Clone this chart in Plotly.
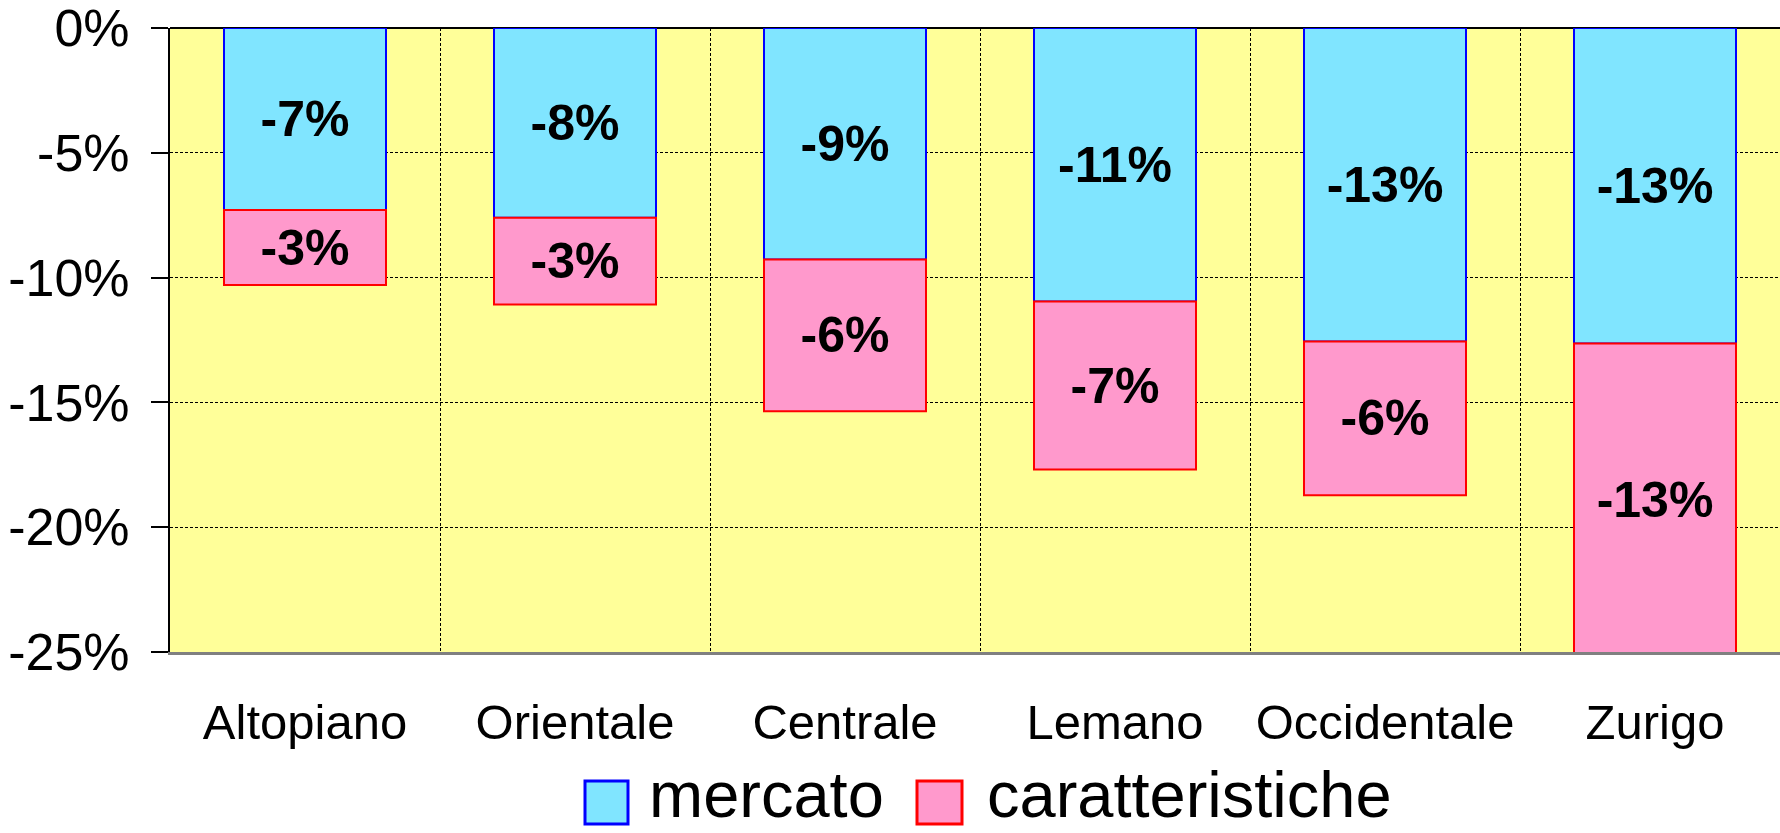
import plotly.graph_objects as go

categories = ["Altopiano", "Orientale", "Centrale", "Lemano", "Occidentale", "Zurigo"]
mercato = [-7.29, -7.60, -9.27, -10.96, -12.56, -12.64]
caratteristiche = [-3.01, -3.48, -6.08, -6.73, -6.16, -12.52]
y_ticks = [0, -5, -10, -15, -20, -25]
y_ticktext = ["0%", "-5%", "-10%", "-15%", "-20%", "-25%"]
legend_names = ["mercato", "caratteristiche"]

FONT = "Liberation Sans"
W, H = 1780, 833
L, T, B = 170, 28, 652           # plot area edges (px)
CAT_W = 270                      # pixels per category
x_end = -0.5 + (W - L) / CAT_W

def lab(vals):
    return [f"{v:.0f}%" for v in vals]

fig = go.Figure()
fig.add_trace(go.Bar(
    x=categories, y=mercato, name=legend_names[0], width=0.6,
    marker=dict(color="#80E5FF", line=dict(color="#0000FF", width=2)),
    text=lab(mercato), textposition="inside", insidetextanchor="middle",
    constraintext="none",
    textfont=dict(family=FONT, size=50, color="black", weight="bold"),
    showlegend=False,
))
fig.add_trace(go.Bar(
    x=categories, y=caratteristiche, name=legend_names[1], width=0.6,
    marker=dict(color="#FF99CC", line=dict(color="#FF0000", width=2)),
    text=lab(caratteristiche), textposition="inside", insidetextanchor="middle",
    constraintext="none",
    textfont=dict(family=FONT, size=50, color="black", weight="bold"),
    showlegend=False,
))

grid = dict(showgrid=True, gridcolor="black", gridwidth=1, griddash="3px,2px")

fig.update_layout(
    width=W, height=H,
    margin=dict(l=L, r=0, t=T, b=H - B, pad=0),
    barmode="relative",
    paper_bgcolor="white", plot_bgcolor="#FFFF99",
    font=dict(family=FONT, color="black"),
    xaxis=dict(
        type="category", range=[-0.5, x_end], tickson="boundaries",
        ticks="", showline=True, linecolor="#808080", linewidth=3,
        tickfont=dict(family=FONT, size=49, color="black"),
        ticklabelstandoff=25, zeroline=False, **grid,
    ),
    xaxis2=dict(
        overlaying="x", side="top", anchor="y", range=[-0.5, x_end],
        tickvals=[i + 0.5 for i in range(len(categories) - 1)],
        ticks="inside", ticklen=15, tickwidth=2, tickcolor="black",
        showticklabels=False, showgrid=False, zeroline=False, showline=False,
    ),
    yaxis=dict(
        range=[-25, 0], tickvals=y_ticks, ticktext=y_ticktext,
        ticks="outside", ticklen=17, tickwidth=2, tickcolor="black",
        showline=True, linecolor="black", linewidth=2,
        zeroline=True, zerolinecolor="black", zerolinewidth=2,
        tickfont=dict(family=FONT, size=52, color="black"),
        ticklabelstandoff=11, ticklabeloverflow="allow", **grid,
    ),
)

# manual legend (large keys like the original); positions in px
def px_x(p):
    return (p - L) / (W - L)

def px_y(p):
    return (B - p) / (B - T)

keys = [
    (585, 628, "#80E5FF", "#0000FF", 647),
    (917, 962, "#FF99CC", "#FF0000", 985),
]
for (x0, x1, fill, edge, tx), name in zip(keys, legend_names):
    fig.add_shape(type="rect", xref="paper", yref="paper",
                  x0=px_x(x0), x1=px_x(x1), y0=px_y(781), y1=px_y(824),
                  fillcolor=fill, line=dict(color=edge, width=3))
    fig.add_annotation(xref="paper", yref="paper", x=px_x(tx), y=px_y(794),
                       text=name, showarrow=False, xanchor="left", yanchor="middle",
                       font=dict(family=FONT, size=65, color="black"))

fig.write_html(
    "out.html",
    config={"displayModeBar": False},
    post_script="document.body.style.margin='0';document.body.style.overflow='hidden';",
)
